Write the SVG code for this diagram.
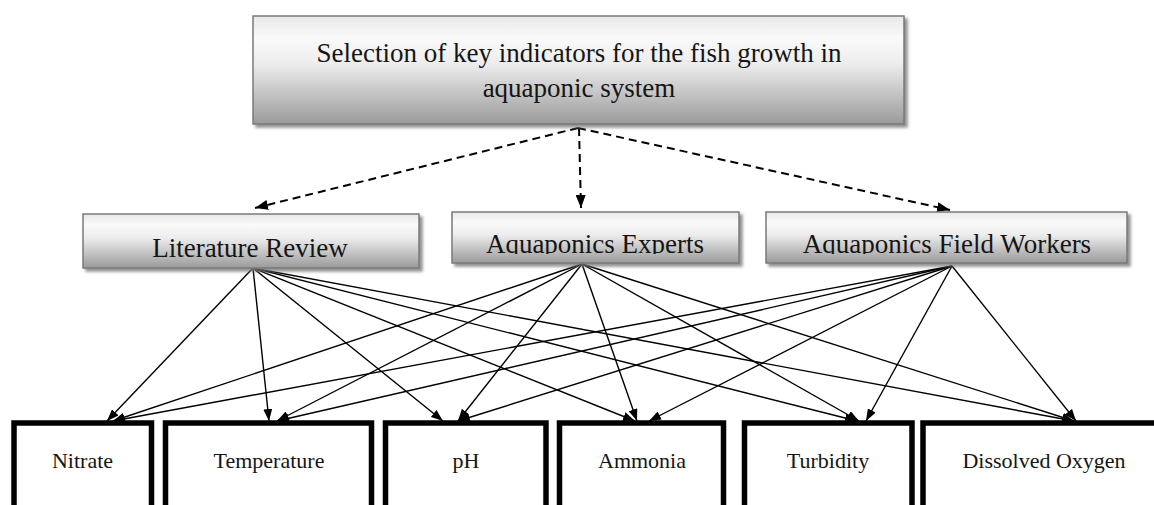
<svg xmlns="http://www.w3.org/2000/svg" width="1154" height="505" viewBox="0 0 1154 505">
<style>
.box{fill:url(#g);stroke:#7a7a7a;stroke-width:1.5;filter:url(#sh)}
.t{font-family:"Liberation Serif","Times New Roman",serif;fill:#151515;text-anchor:middle}
.big{font-size:27px}
.small{font-size:22px}
.ind{fill:#fff;stroke:#000;stroke-width:5.5}
.sol{stroke:#000;stroke-width:1.4;fill:none;marker-end:url(#ah)}
.dash{stroke:#000;stroke-width:2;fill:none;stroke-dasharray:8 5;marker-end:url(#ahd)}
</style>
<defs>
<linearGradient id="g" x1="0" y1="0" x2="0" y2="1">
<stop offset="0" stop-color="#e8e8e8"/>
<stop offset="0.2" stop-color="#fafafa"/>
<stop offset="0.45" stop-color="#ececec"/>
<stop offset="1" stop-color="#9a9a9a"/>
</linearGradient>
<filter id="sh" x="-5%" y="-10%" width="115%" height="130%">
<feDropShadow dx="3" dy="3" stdDeviation="1.5" flood-color="#777" flood-opacity="0.8"/>
</filter>
<marker id="ah" markerWidth="12" markerHeight="9" refX="12" refY="4.5" orient="auto" markerUnits="userSpaceOnUse">
<path d="M0,0 L12,4.5 L0,9 z" fill="#000"/>
</marker>
<marker id="ahd" markerWidth="13" markerHeight="10" refX="13" refY="5" orient="auto" markerUnits="userSpaceOnUse">
<path d="M0,0 L13,5 L0,10 z" fill="#000"/>
</marker>
<clipPath id="clipE"><rect x="452" y="212" width="287" height="42"/></clipPath>
<clipPath id="clipF"><rect x="766" y="212" width="361" height="42"/></clipPath>
</defs>

<g id="connectors">
<path class="dash" d="M578,128 L255,208"/>
<path class="dash" d="M579,128 L581,208"/>
<path class="dash" d="M578,128 L950,210"/>

<path class="sol" d="M253,268 L107,421"/>
<path class="sol" d="M253,268 L269,421"/>
<path class="sol" d="M253,268 L443,421"/>
<path class="sol" d="M253,268 L635,421"/>
<path class="sol" d="M253,268 L857,421"/>
<path class="sol" d="M253,268 L1074,421"/>

<path class="sol" d="M582,264 L113,421"/>
<path class="sol" d="M582,264 L277,421"/>
<path class="sol" d="M582,264 L458,421"/>
<path class="sol" d="M582,264 L637,421"/>
<path class="sol" d="M582,264 L859,421"/>
<path class="sol" d="M582,264 L1074,421"/>

<path class="sol" d="M952,266 L113,421"/>
<path class="sol" d="M952,266 L277,421"/>
<path class="sol" d="M952,266 L458,421"/>
<path class="sol" d="M952,266 L649,421"/>
<path class="sol" d="M952,266 L866,421"/>
<path class="sol" d="M952,266 L1076,421"/>
</g>

<g id="top">
<rect class="box" x="253" y="16" width="651" height="108"/>
<text class="t big" x="579" y="62">Selection of key indicators for the fish growth in</text>
<text class="t big" x="579" y="97">aquaponic system</text>
</g>

<g id="literature">
<rect class="box" x="83" y="214" width="336" height="54"/>
<text class="t big" x="250" y="257">Literature Review</text>
</g>

<g id="experts">
<rect class="box" x="452" y="212" width="287" height="51"/>
<text class="t big" x="595" y="253" clip-path="url(#clipE)">Aquaponics Experts</text>
</g>

<g id="fieldworkers">
<rect class="box" x="766" y="212" width="361" height="51"/>
<text class="t big" x="947" y="253" clip-path="url(#clipF)">Aquaponics Field Workers</text>
</g>

<g id="nitrate">
<rect class="ind" x="14" y="423" width="137.5" height="110"/>
<text class="t small" x="82.5" y="468">Nitrate</text>
</g>
<g id="temperature">
<rect class="ind" x="165.5" y="423" width="206" height="110"/>
<text class="t small" x="269" y="468">Temperature</text>
</g>
<g id="ph">
<rect class="ind" x="385.5" y="423" width="160.5" height="110"/>
<text class="t small" x="466" y="468">pH</text>
</g>
<g id="ammonia">
<rect class="ind" x="559.5" y="423" width="164" height="110"/>
<text class="t small" x="642" y="468">Ammonia</text>
</g>
<g id="turbidity">
<rect class="ind" x="744.5" y="423" width="167.5" height="110"/>
<text class="t small" x="828" y="468">Turbidity</text>
</g>
<g id="oxygen">
<rect class="ind" x="923" y="423" width="242" height="110"/>
<text class="t small" x="1044" y="468">Dissolved Oxygen</text>
</g>
</svg>
